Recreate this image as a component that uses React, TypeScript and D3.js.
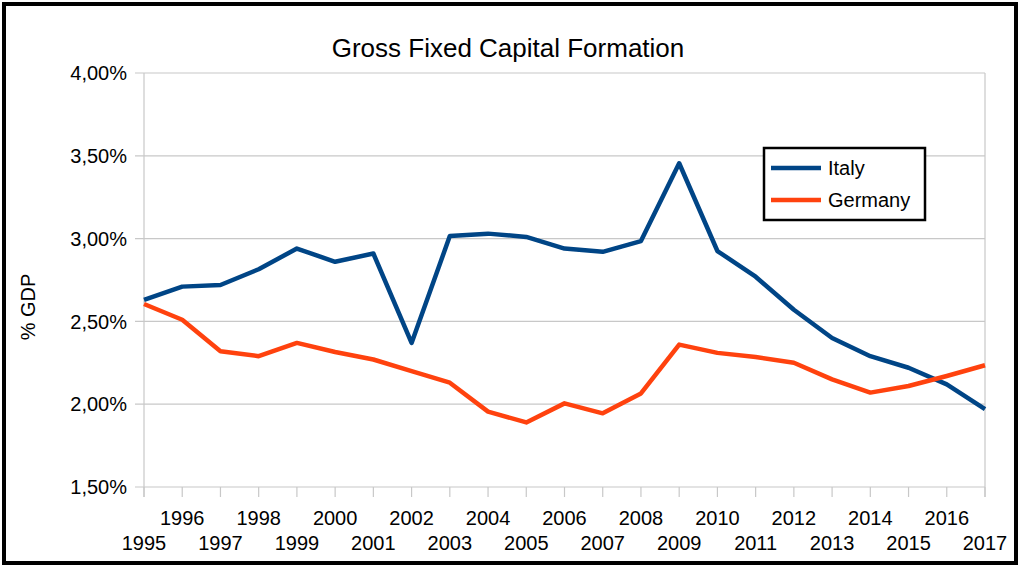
import * as d3 from 'd3'

const years = d3.range(1995, 2018)
const italy = [
  2.63, 2.71, 2.72, 2.815, 2.94, 2.86, 2.91, 2.37, 3.015, 3.03, 3.01, 2.94,
  2.92, 2.985, 3.455, 2.925, 2.77, 2.57, 2.4, 2.29, 2.22, 2.12, 1.97,
]
const germany = [
  2.605, 2.51, 2.32, 2.29, 2.37, 2.315, 2.27, 2.2, 2.13, 1.955, 1.89, 2.005,
  1.945, 2.065, 2.36, 2.31, 2.285, 2.25, 2.15, 2.07, 2.11, 2.17, 2.235,
]
const yTicks = [1.5, 2.0, 2.5, 3.0, 3.5, 4.0]

const series = [
  { name: 'Italy', values: italy, color: '#004586' },
  { name: 'Germany', values: germany, color: '#ff420e' },
]

const W = 1024
const H = 570
const FONT = 'Liberation Sans, Arial, sans-serif'

export default function App() {
  const x = d3.scaleLinear().domain([1995, 2017]).range([144, 985])
  const y = d3.scaleLinear().domain([1.5, 4.0]).range([487, 73])

  const line = d3
    .line<number>()
    .x((_, i) => x(years[i]))
    .y((d) => y(d))

  const fmt = (v: number) => v.toFixed(2).replace('.', ',') + '%'

  return (
    <div style={{ position: 'absolute', left: 0, top: 0 }}>
      <svg width={W} height={H} style={{ display: 'block', background: '#fff' }} fontFamily={FONT}>
        <rect x={4} y={4} width={1012} height={559} fill="#fff" stroke="#000" strokeWidth={4} />

        <text x={508} y={57} textAnchor="middle" fontSize={26} fill="#000">
          Gross Fixed Capital Formation
        </text>

        {/* horizontal grid + y labels */}
        {yTicks.map((t) => (
          <g key={t}>
            <line x1={135} x2={985} y1={y(t)} y2={y(t)} stroke="#c8c8c8" strokeWidth={1.2} />
            <text x={127} y={y(t)} dy="0.36em" textAnchor="end" fontSize={20} fill="#000">
              {fmt(t)}
            </text>
          </g>
        ))}

        {/* vertical axis lines */}
        <line x1={144} x2={144} y1={73} y2={497} stroke="#c8c8c8" strokeWidth={1.2} />
        <line x1={985} x2={985} y1={73} y2={497} stroke="#c8c8c8" strokeWidth={1.2} />

        {/* x ticks + labels */}
        {years.map((yr) => (
          <g key={yr}>
            <line x1={x(yr)} x2={x(yr)} y1={487} y2={497} stroke="#c8c8c8" strokeWidth={1.2} />
            <text
              x={x(yr)}
              y={yr % 2 === 0 ? 525 : 550}
              textAnchor="middle"
              fontSize={20}
              fill="#000"
            >
              {yr}
            </text>
          </g>
        ))}

        <text
          transform="translate(35,307) rotate(-90)"
          textAnchor="middle"
          fontSize={20}
          fill="#000"
        >
          % GDP
        </text>

        {series.map((s) => (
          <path
            key={s.name}
            d={line(s.values) || ''}
            fill="none"
            stroke={s.color}
            strokeWidth={4.5}
            strokeLinejoin="round"
          />
        ))}

        {/* legend */}
        <rect x={764} y={148} width={161} height={72} fill="#fff" stroke="#000" strokeWidth={2.5} />
        {series.map((s, i) => (
          <g key={s.name} transform={`translate(0,${168 + i * 32})`}>
            <line x1={771} x2={821} y1={0} y2={0} stroke={s.color} strokeWidth={4.5} />
            <text x={828} y={0} dy="0.36em" fontSize={20} fill="#000">
              {s.name}
            </text>
          </g>
        ))}
      </svg>
    </div>
  )
}
